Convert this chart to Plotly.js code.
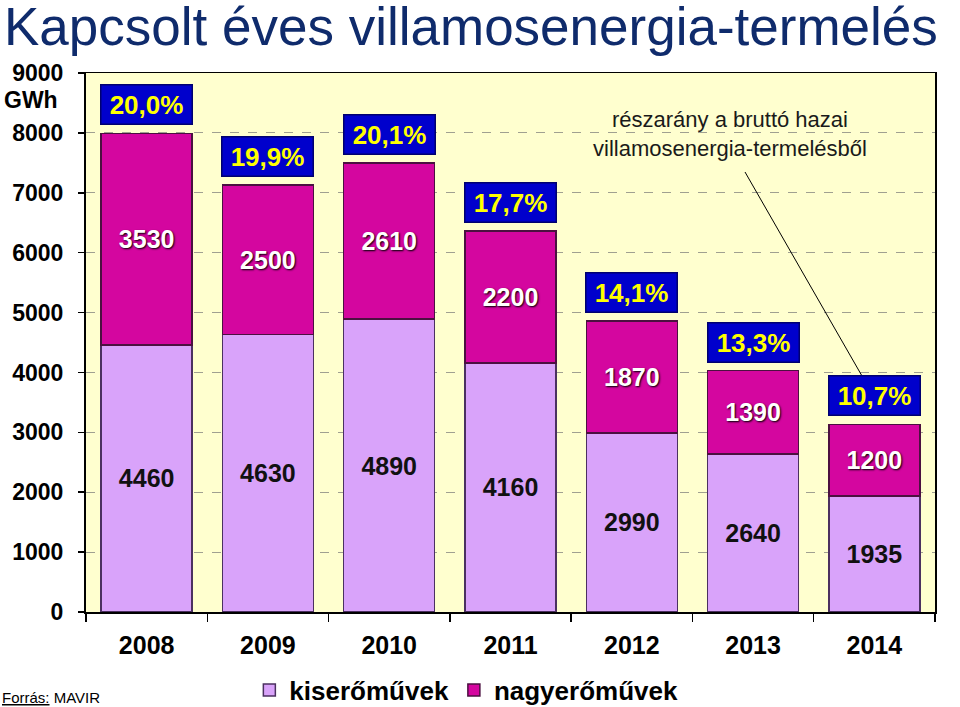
<!DOCTYPE html>
<html>
<head>
<meta charset="utf-8">
<script src="https://cdn.plot.ly/plotly-3.0.1.min.js"></script>
<style>html,body{margin:0;padding:0;background:#fff;}#chart{width:960px;height:707px;}</style>
</head>
<body>
<div id="chart"></div>
<script>
const years = ['2008','2009','2010','2011','2012','2013','2014'];
const kiseromuvek = [4460, 4630, 4890, 4160, 2990, 2640, 1935];
const nagyeromuvek = [3530, 2500, 2610, 2200, 1870, 1390, 1200];
const reszarany = ['20,0%','19,9%','20,1%','17,7%','14,1%','13,3%','10,7%'];
const yTicks = [0,1000,2000,3000,4000,5000,6000,7000,8000,9000];

const FONT = 'Liberation Sans, Arial, sans-serif';
const totals = years.map((y,i)=>kiseromuvek[i]+nagyeromuvek[i]);

const traces = [
  {
    type:'bar', name:'kiserőművek', x:years, y:kiseromuvek,
    text:kiseromuvek.map(String), textposition:'inside', insidetextanchor:'middle',
    constraintext:'none',
    textfont:{family:FONT, size:25, color:'#111', weight:'bold'},
    marker:{color:'#D9A3FA', line:{color:'#4B3060', width:1.5}},
    width:0.75, hoverinfo:'skip'
  },
  {
    type:'bar', name:'nagyerőművek', x:years, y:nagyeromuvek,
    text:nagyeromuvek.map(String), textposition:'inside', insidetextanchor:'middle',
    constraintext:'none',
    textfont:{family:FONT, size:25, color:'#ffffff', weight:'bold', shadow:'1px 1px 2px #000'},
    marker:{color:'#D4069F', line:{color:'#4B1040', width:1.5}},
    width:0.75, hoverinfo:'skip'
  }
];

// category axis: annotations are placed by category index
const annotations = years.map((y,i)=>({
  x:i, y:totals[i], xref:'x', yref:'y', yanchor:'bottom', yshift:8,
  text:reszarany[i], showarrow:false,
  font:{family:FONT, size:26, color:'#FFFF00', weight:'bold'},
  bgcolor:'#0000CC', bordercolor:'#000070', borderwidth:1.5, borderpad:3,
  width:84, height:32
}));
annotations.push({
  xref:'paper', yref:'y', x:0, y:9000, xanchor:'right', xshift:-26, yshift:-27,
  text:'GWh', showarrow:false,
  font:{family:FONT, size:23, color:'#000', weight:'bold'}
});
annotations.push({
  xref:'paper', yref:'paper', x:(730-86)/849, y:(612-134)/539, xanchor:'center', yanchor:'middle',
  text:'részarány a bruttó hazai<br>villamosenergia-termelésből', showarrow:false,
  font:{family:FONT, size:22, color:'#1a1a1a'}
});
annotations.push({
  xref:'paper', yref:'paper', x:-86/849, y:-(697-612)/539, xanchor:'left', yanchor:'middle',
  text:'<u>Forrás:</u> MAVIR', showarrow:false,
  font:{family:FONT, size:15, color:'#000'}
});

const layout = {
  width:960, height:707,
  paper_bgcolor:'#ffffff', plot_bgcolor:'#FFFFCF',
  margin:{l:86, r:25, t:73, b:95, autoexpand:false},
  barmode:'stack', bargap:0.25,
  title:{text:'Kapcsolt éves villamosenergia-termelés', x:4/960, xanchor:'left', xref:'container',
         y:1-26/707, yanchor:'middle', yref:'container',
         font:{family:FONT, size:53, color:'#0F2B6C'}},
  xaxis:{type:'category', range:[-0.5,6.5], autorange:false, automargin:false, tickson:'boundaries', ticks:'outside', ticklen:8, tickwidth:1.5, tickcolor:'#000',
         showline:true, linecolor:'#000', linewidth:1.5, mirror:true,
         tickfont:{family:FONT, size:25, color:'#000', weight:'bold'}, ticklabelstandoff:10},
  yaxis:{range:[0,9000], autorange:false, automargin:false, tickvals:yTicks, ticktext:yTicks.map(String), ticks:'outside', ticklen:6, tickwidth:1.5, tickcolor:'#000',
         showline:true, linecolor:'#000', linewidth:2, mirror:true,
         showgrid:true, gridcolor:'#A0A090', griddash:'dash', gridwidth:1, zeroline:false,
         tickfont:{family:FONT, size:23, color:'#000', weight:'bold'}, ticklabelstandoff:10},
  legend:{orientation:'h', x:0.448, xanchor:'center', yref:'container', y:(707-690)/707, yanchor:'middle',
          font:{family:FONT, size:26, color:'#000', weight:'bold'}, traceorder:'normal', bgcolor:'rgba(0,0,0,0)'},
  shapes:[{type:'line', xref:'paper', yref:'paper',
           x0:(745-86)/849, y0:(612-172)/539, x1:(862-86)/849, y1:(612-376)/539,
           line:{color:'#000', width:1}}],
  annotations:annotations,
  showlegend:true
};

Plotly.newPlot('chart', traces, layout, {displayModeBar:false, staticPlot:true});
</script>
</body>
</html>
